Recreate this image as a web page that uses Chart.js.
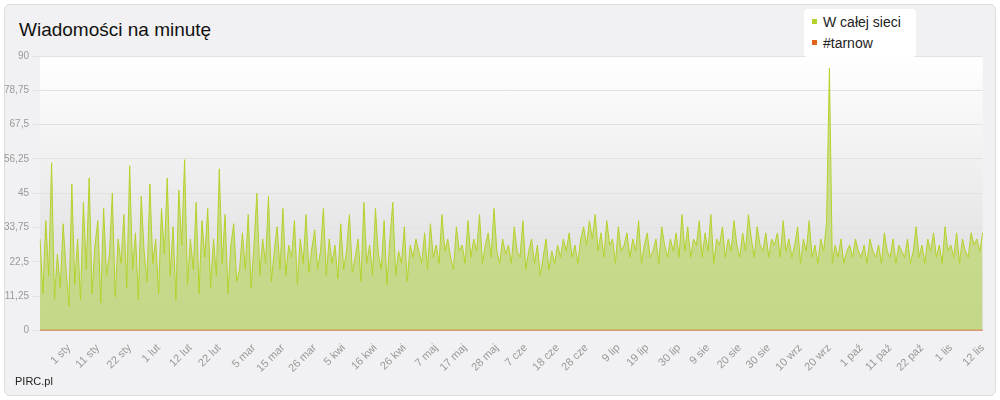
<!DOCTYPE html>
<html><head><meta charset="utf-8">
<script src="https://cdn.jsdelivr.net/npm/chart.js@4"></script>
<style>
body{margin:0;background:#fff;font-family:"Liberation Sans",Arial,sans-serif}
#wrap{position:absolute;left:4px;top:4px;width:990px;height:390px;background:#f1f1f3;border:1px solid #dcdce0;border-radius:6px}
#title{position:absolute;left:14px;top:14px;font-size:19px;color:#111}
#legend{position:absolute;left:799px;top:4px;width:100px;background:#fff;border-radius:4px;padding:3px 6px;font-size:14px;color:#222;line-height:21px}
#legend span{display:inline-block;width:5px;height:5px;margin:0 6px 3px 2px}
#foot{position:absolute;left:10px;top:370px;font-size:11px;color:#222}
#box{position:absolute;left:-4px;top:42px;width:994px;height:331px}
</style></head><body>
<div id="wrap"><div id="box"><canvas id="c"></canvas></div>
<div id="title">Wiadomości na minutę</div>
<div id="legend"><div><span style="background:#b4d22b"></span>W całej sieci</div><div><span style="background:#e2631e"></span>#tarnow</div></div>
<div id="foot">PIRC.pl</div></div>
<script>
const months=['sty','lut','mar','kwi','maj','cze','lip','sie','wrz','paź','lis','gru'];
const tickLabels=['1 sty','11 sty','22 sty','1 lut','12 lut','22 lut','5 mar','15 mar','26 mar','5 kwi','16 kwi','26 kwi','7 maj','17 maj','28 maj','7 cze','18 cze','28 cze','9 lip','19 lip','30 lip','9 sie','20 sie','30 sie','10 wrz','20 wrz','1 paź','11 paź','22 paź','1 lis','12 lis'];
const network=[30,12,36,18,55,10,25,14,35,20,
8,48,15,30,10,42,20,50,12,28,36,9,40,18,25,45,11,30,22,38,14,54,20,32,10,44,26,16,48,22,30,
12,40,25,50,18,34,10,46,28,56,15,30,20,42,12,36,24,40,14,30,18,53,22,38,12,28,35,16,20,
32,20,38,14,28,45,18,30,22,44,16,26,34,20,40,18,28,24,36,15,30,22,38,19,27,33,20,26,40,18,30,
22,28,17,35,20,26,38,19,24,30,16,42,22,28,18,40,25,20,36,15,30,42,18,26,22,34,16,28,24,30,
26,22,32,20,35,24,28,22,38,26,30,24,20,34,26,28,22,36,24,30,26,38,22,28,32,24,40,26,22,30,25,
28,22,34,26,24,36,20,26,30,22,28,18,24,30,20,26,22,28,24,30,26,32,24,28,22,30,34,28,36,30,
38,26,32,24,36,28,30,22,34,26,28,32,24,30,26,36,22,28,32,24,26,30,22,34,28,24,30,26,32,24,38,
26,34,24,30,28,36,24,32,26,38,22,30,28,34,24,30,26,36,28,24,32,26,38,30,24,34,28,26,32,24,30,
28,32,24,36,26,30,24,28,34,22,30,26,36,24,28,22,30,26,35,86,22,28,24,30,22,26,28,24,30,26,
24,28,22,30,26,24,28,22,32,26,24,30,22,28,26,24,30,22,26,34,24,28,22,30,26,32,24,28,22,34,26,
28,24,32,22,30,26,24,32,28,30,26,32];
const labels=[];const d=new Date(2011,11,22);
for(let i=0;i<network.length;i++){labels.push(d.getDate()+' '+months[d.getMonth()]);d.setDate(d.getDate()+1);}
const tarnow=network.map(()=>0);
const bg={id:'bg',beforeDraw(ch){const a=ch.chartArea,c=ch.ctx;const g=c.createLinearGradient(0,a.top,0,a.bottom);g.addColorStop(0,'#ffffff');g.addColorStop(1,'#d8d8da');c.save();c.fillStyle=g;c.fillRect(a.left,a.top,a.right-a.left,a.bottom-a.top);c.restore();}};
new Chart(document.getElementById('c'),{type:'line',data:{labels,datasets:[
{data:network,order:1,borderColor:'#b4d22b',backgroundColor:'rgba(190,215,110,0.75)',fill:'origin',borderWidth:1,pointRadius:0,tension:0},
{data:tarnow,order:0,borderColor:'#e2631e',borderWidth:1.5,pointRadius:0,fill:false}]},
options:{responsive:true,maintainAspectRatio:false,animation:false,layout:{padding:{right:8,top:6}},
plugins:{legend:{display:false},tooltip:{enabled:false}},
scales:{x:{offset:false,grid:{display:false},border:{color:'#ccc'},ticks:{autoSkip:false,maxRotation:45,minRotation:45,color:'#999',font:{size:11},
callback(v){const l=this.getLabelForValue(v);return tickLabels.includes(l)?l:null;}}},
y:{min:0,max:90,border:{display:false},grid:{color:'#e2e2e2'},ticks:{stepSize:11.25,color:'#999',font:{size:10},callback:v=>String(v).replace('.',',')}}}},
plugins:[bg]});
</script></body></html>
